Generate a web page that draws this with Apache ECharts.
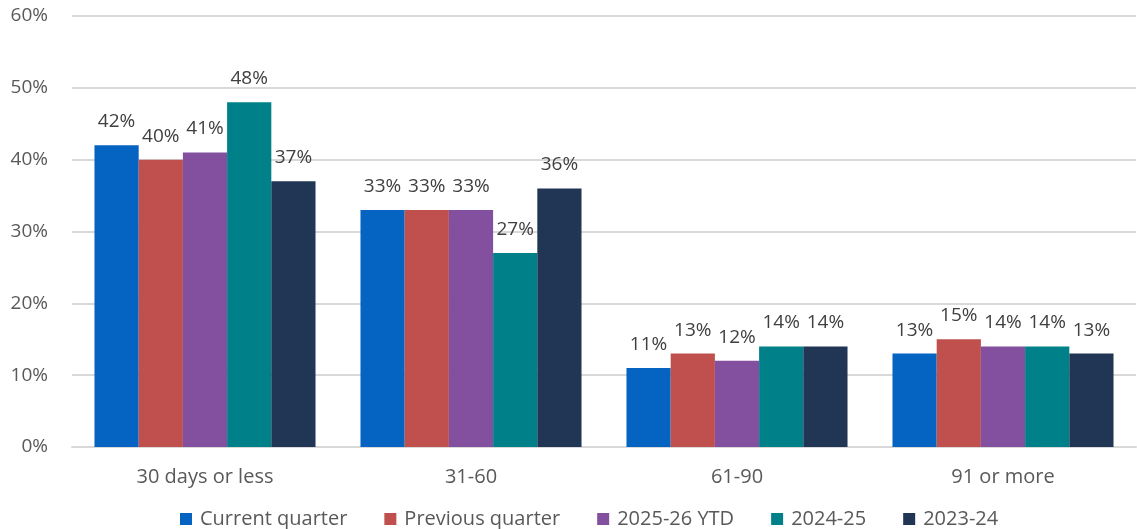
<!DOCTYPE html>
<html>
<head>
<meta charset="utf-8">
<script src="https://cdn.jsdelivr.net/npm/echarts@6/dist/echarts.min.js"></script>
<style>
  html, body { margin: 0; padding: 0; background: #fff; }
  #chart { width: 1137px; height: 529px; }
</style>
</head>
<body>
<div id="chart"></div>
<script>
// categories and series (percent)
const categories = ["30 days or less", "31-60", "61-90", "91 or more"];
const seriesNames = ["Current quarter", "Previous quarter", "2025-26 YTD", "2024-25", "2023-24"];
const currentQuarter = [42, 33, 11, 13];
const previousQuarter = [40, 33, 13, 15];
const ytd2526 = [41, 33, 12, 14];
const fy2425 = [48, 27, 14, 14];
const fy2324 = [37, 36, 14, 13];
const colors = ["#0563C1", "#C0504D", "#834F9F", "#00818A", "#213555"];

const allData = [currentQuarter, previousQuarter, ytd2526, fy2425, fy2324];
const font = "'Open Sans', sans-serif";

let myChart = echarts.init(document.getElementById("chart"));
let option = {
  animation: false,
  textStyle: { fontFamily: font },
  grid: { left: 72, right: 1, top: 16, bottom: 82 },
  legend: {
    bottom: 0,
    left: 180,
    padding: 0,
    itemWidth: 12,
    itemHeight: 12,
    itemGap: 37,
    icon: "rect",
    textStyle: { fontSize: 20, color: "#595959", fontFamily: font, padding: [0, 0, 0, 3] },
    data: seriesNames
  },
  xAxis: {
    type: "category",
    data: categories,
    axisLine: { lineStyle: { color: "#d9d9d9", width: 2 } },
    axisTick: { show: false },
    axisLabel: { fontSize: 20, color: "#595959", margin: 20, fontFamily: font }
  },
  yAxis: {
    type: "value",
    min: 0,
    max: 60,
    interval: 10,
    axisLabel: { formatter: "{value}%", fontSize: 19, color: "#595959", margin: 24, fontFamily: font },
    splitLine: { lineStyle: { color: "#d9d9d9", width: 2 } },
    axisLine: { show: false },
    axisTick: { show: false }
  },
  series: seriesNames.map(function (name, i) {
    return {
      name: name,
      type: "bar",
      data: allData[i],
      barGap: "0%",
      barCategoryGap: "16.9%",
      itemStyle: { color: colors[i] },
      label: {
        show: true,
        position: "top",
        distance: 14,
        formatter: "{c}%",
        fontSize: 19,
        color: "#404040",
        fontFamily: font
      }
    };
  })
};
myChart.setOption(option);
</script>
</body>
</html>
